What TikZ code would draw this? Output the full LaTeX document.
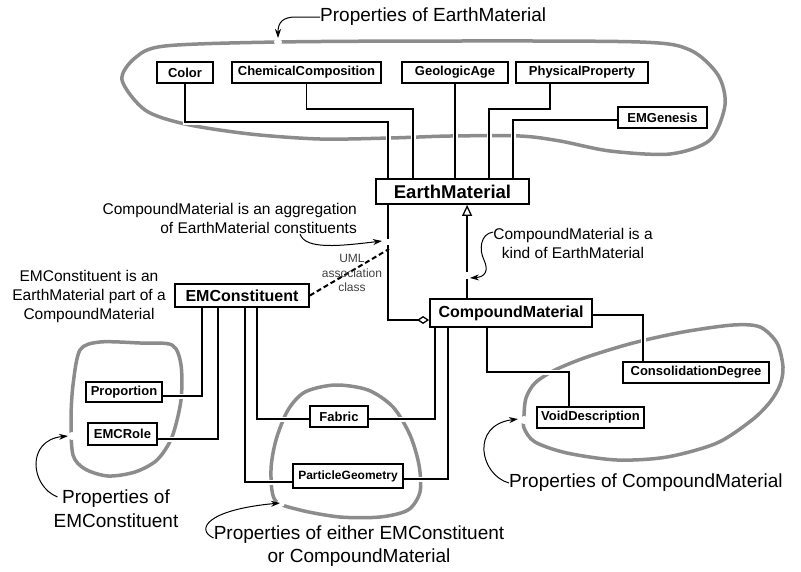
\documentclass[tikz,border=0pt]{standalone}
\usepackage{fontspec}
\setmainfont{Liberation Sans}
\usetikzlibrary{arrows.meta, positioning, calc}
\pgfdeclarelayer{blob}
\pgfdeclarelayer{wire}
\pgfsetlayers{blob,wire,main}
\newcommand\fs[2]{\fontsize{#1}{#2}\selectfont} % font size, baselineskip

\begin{document}
\begin{tikzpicture}[x=1pt, y=-1pt,
    cls/.style={draw, line width=1.8pt, fill=white, inner sep=0pt, font=\fs{13}{15}\bfseries},
    link/.style={line width=1.3pt, preaction={draw=white, line width=5pt}},
    uml/.style={line width=1.3pt},
    blob/.style={draw=black!45, line width=3.5pt},
    note/.style={line width=1pt, -{Stealth[length=9pt, width=6pt]}},
    txt/.style={inner sep=0pt, align=center, font=\fs{15.5}{19}}]
    \useasboundingbox (0,0) rectangle (801,571);

    % classes
    \node[cls, minimum width=56pt, minimum height=21pt] (color) at (185,72.5) {Color};
    \node[cls, minimum width=149pt, minimum height=21pt] (chem) at (306.5,72.5) {ChemicalComposition};
    \node[cls, minimum width=106pt, minimum height=21pt] (geo) at (455,72.5) {GeologicAge};
    \node[cls, minimum width=132pt, minimum height=21pt] (phys) at (582,72.5) {PhysicalProperty};
    \node[cls, minimum width=89pt, minimum height=21pt] (emg) at (662.5,117.5) {EMGenesis};
    \node[cls, minimum width=153pt, minimum height=25pt, font=\fs{18.5}{20}\bfseries] (em) at (452.5,191.5) {EarthMaterial};
    \node[cls, minimum width=162pt, minimum height=28pt, font=\fs{16}{18}\bfseries] (cm) at (511,313) {CompoundMaterial};
    \node[cls, minimum width=134pt, minimum height=23pt, font=\fs{16}{18}\bfseries] (emc) at (242,295.5) {EMConstituent};
    \node[cls, minimum width=76pt, minimum height=20pt] (prop) at (124,392) {Proportion};
    \node[cls, minimum width=69pt, minimum height=22pt] (role) at (122.5,434) {EMCRole};
    \node[cls, minimum width=58pt, minimum height=21pt] (fab) at (339,416.5) {Fabric};
    \node[cls, minimum width=110pt, minimum height=24pt, font=\fs{12}{14}\bfseries] (pg) at (348,476) {ParticleGeometry};
    \node[cls, minimum width=107pt, minimum height=21pt] (void) at (590.5,417.5) {VoidDescription};
    \node[cls, minimum width=146pt, minimum height=21pt] (cons) at (696,372.5) {ConsolidationDegree};

    % notes
    \node[txt, font=\fs{19}{24}, anchor=west] (pem) at (320,17) {Properties of EarthMaterial};
    \node[txt, align=right, anchor=east] (agg) at (357,218.5) {CompoundMaterial is an aggregation\\of EarthMaterial constituents};
    \node[txt] (kind) at (573,243) {CompoundMaterial is a\\kind of EarthMaterial};
    \node[txt] (emcnote) at (89,296) {EMConstituent is an\\EarthMaterial part of a\\CompoundMaterial};
    \node[txt, font=\fs{12}{14.5}, text=black!75] (umlnote) at (352,273) {UML\\association\\class};
    \node[txt, font=\fs{19}{24}] (pemc) at (116,509) {Properties of\\EMConstituent};
    \node[txt, font=\fs{19}{23}] (pboth) at (359,546) {Properties of either EMConstituent\\or CompoundMaterial};
    \node[txt, font=\fs{19}{24}, anchor=west] (pcm) at (509,483) {Properties of CompoundMaterial};

    % grey groups
    \begin{pgfonlayer}{blob}
        \draw[blob] plot[smooth cycle] coordinates {(122,80) (135,58) (165,46) (278,42) (450,41) (640,42)
            (690,50) (718,75) (725,105) (710,140) (670,154) (610,151) (560,141) (520,136) (450,136)
            (390,138) (320,139) (250,134) (185,124) (145,110)};
        \draw[blob] plot[smooth cycle] coordinates {(80,350) (100,342) (140,343) (172,345) (181,365)
            (181,400) (172,437) (157,460) (135,472) (108,476) (85,469) (73,455) (71,420) (73,385)};
        \draw[blob] plot[smooth cycle] coordinates {(275,500) (271,470) (276,440) (288,410) (305,392)
            (335,385) (368,390) (393,407) (410,435) (419,465) (420,492) (408,510) (380,517) (340,517) (300,510)};
        \draw[blob] plot[smooth cycle] coordinates {(524,415) (526,398) (535,383) (555,370) (587,357)
            (633,343) (683,332) (733,325) (760,327) (777,343) (783,367) (780,385) (770,402) (752,420)
            (717,443) (667,457) (617,460) (567,453) (535,442) (524,428)};
    \end{pgfonlayer}

    \begin{pgfonlayer}{wire}
        % EarthMaterial properties
        \draw[link] (color.south) |- ([xshift=13pt,yshift=56pt]em.north west) -- ([xshift=13pt]em.north west);
        \draw[link] (chem.south) |- ([xshift=38pt,yshift=69pt]em.north west) -- ([xshift=38pt]em.north west);
        \draw[link] (geo.south) -- (geo.south |- em.north);
        \draw[link] ([xshift=35pt]phys.south west) |- ([xshift=114pt,yshift=69pt]em.north west) -- ([xshift=114pt]em.north west);
        \draw[link] ([yshift=-2.5pt]emg.west) -| ([xshift=138pt]em.north west);
        % EMConstituent properties
        \draw[link] ([yshift=-4pt]prop.east) -| ([xshift=28pt]emc.south west);
        \draw[link] ([yshift=-5pt]role.east) -| ([xshift=44pt]emc.south west);
        \draw[link] ([yshift=-6pt]pg.west) -| ([xshift=71pt]emc.south west);
        \draw[link] ([yshift=-2.5pt]fab.west) -| ([xshift=83pt]emc.south west);
        % CompoundMaterial properties
        \draw[link] ([yshift=-2.5pt]fab.east) -| ([xshift=6pt]cm.south west);
        \draw[link] ([yshift=-3pt]pg.east) -| ([xshift=19pt]cm.south west);
        \draw[link] ([xshift=58pt]cm.south west) |- ([xshift=33pt,yshift=34pt]void.north west) -- ([xshift=33pt]void.north west);
        \draw[link] ([yshift=-2pt]cm.east) -| ([xshift=21pt]cons.north west);
        % aggregation, generalization, association class
        \draw[uml, -{Diamond[open, length=12pt, width=8pt]}] ([xshift=13pt]em.south west) |- ([yshift=-7pt]cm.west);
        \draw[uml, -{Triangle[open, length=11pt, width=10pt]}] ([xshift=38pt]cm.north west) -- ([xshift=92pt]em.south west);
        \coordinate (assoc) at (389,249);
        \draw[line width=2pt, dash pattern=on 5pt off 3pt] (emc.east) -- (assoc);
        % gaps where the notes point
        \fill[white] (386,239) rectangle (392,245);
        \fill[white] (465,272) rectangle (471,279);
        \fill[white] (278,42) circle (4);
        \fill[white] (72,436) circle (4);
        \fill[white] (281,503) circle (4);
        \fill[white] (524,420) circle (4);
    \end{pgfonlayer}

    % note arrows
    \coordinate (tipem) at (278,38);
    \draw[note] (pem.west) -- (296,17) .. controls (283,17) and (278,22) .. (tipem);
    \coordinate (tipagg) at (382,241);
    \draw[note] ([xshift=-57pt]agg.south east) .. controls (305,250) and (340,246) .. (tipagg);
    \coordinate (tipkind) at (470,278);
    \draw[note] ([yshift=11pt]kind.west) .. controls (480,234) and (479,250) .. (484,260) .. controls (489,271) and (485,277) .. (tipkind);
    \coordinate (tippemc) at (68,436);
    \draw[note] ([xshift=4pt,yshift=12pt]pemc.west) .. controls (30,486) and (26,440) .. (tippemc);
    \coordinate (tipboth) at (280,503);
    \draw[note] ([yshift=8pt]pboth.west) .. controls (196,530) and (205,510) .. (tipboth);
    \coordinate (tippcm) at (518,419);
    \draw[note] (pcm.west) .. controls (480,475) and (470,425) .. (tippcm);
\end{tikzpicture}
\end{document}
